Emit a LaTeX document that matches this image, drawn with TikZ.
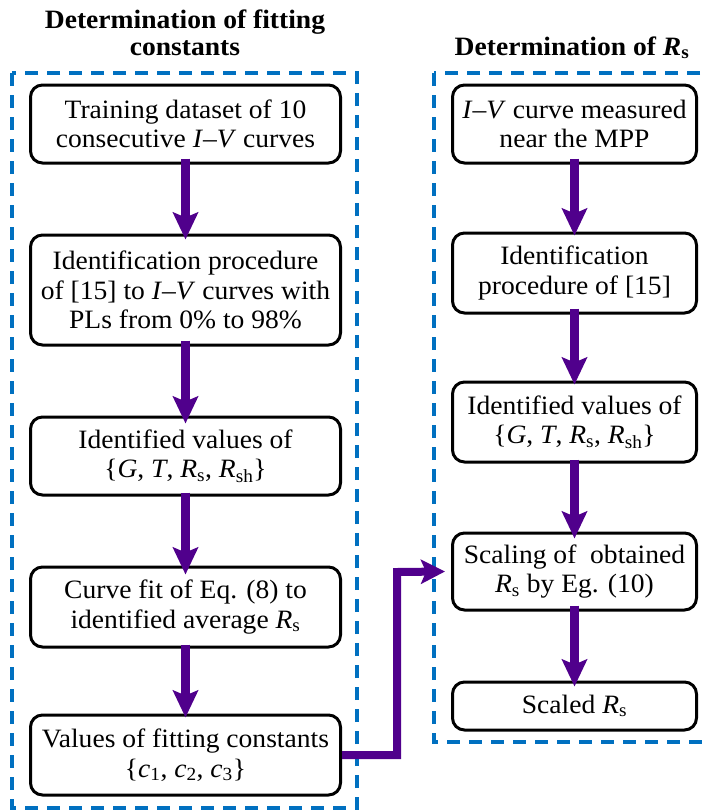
\documentclass[tikz,border=0pt]{standalone}
\usepackage{fontspec}
\setmainfont{Liberation Serif}[FakeStretch=1.04]
\usetikzlibrary{arrows.meta}
\definecolor{dashblue}{RGB}{0,112,192}
\definecolor{arrpurple}{RGB}{80,0,140}
\begin{document}
\begin{tikzpicture}[x=1pt,y=-1pt,
  stepbox/.style={draw=black,line width=3pt,rounded corners=12pt,align=center,
    inner sep=0pt,font=\fontsize{26.5}{29.5}\selectfont},
  lbox/.style={stepbox,minimum width=310pt},
  rbox/.style={stepbox,minimum width=244pt},
  group/.style={draw=dashblue,line width=3.5pt,dash pattern=on 13pt off 9pt},
  flow/.style={draw=arrpurple,line width=9pt,-{Stealth[width=25pt,length=27pt,inset=5pt]}},
  conn/.style={draw=arrpurple,line width=8pt,miter limit=10,-{Stealth[width=24pt,length=24pt,inset=5pt]}},
  ttl/.style={font=\fontsize{26.5}{27}\selectfont\bfseries,align=center,inner sep=0pt}]
\useasboundingbox (0,0) rectangle (705,811);
% titles
\node[ttl,anchor=base] (t1a) at (185,28) {Determination of fitting};
\node[ttl,anchor=base] (t1b) at (185,55) {constants};
\node[ttl,anchor=base] (t2) at (572,55) {Determination of \textit{R}\textsubscript{s}};
% dashed groups
\draw[group] (12,73) rectangle (357,808);
\draw[group] (434,73) rectangle (712,742);
% left column
\node[lbox,minimum height=78pt] (b1) at (185.5,124) {Training dataset of 10\\consecutive \textit{I}–\textit{V} curves};
\node[lbox,minimum height=110pt] (b2) at (185.5,290) {Identification procedure\\of [15] to \textit{I}–\textit{V} curves with\\PLs from 0\% to 98\%};
\node[lbox,minimum height=78pt] (b3) at (185.5,456) {Identified values of\\\{\textit{G}, \textit{T}, \textit{R}\textsubscript{s}, \textit{R}\textsubscript{sh}\}};
\node[lbox,minimum height=80pt] (b4) at (185.5,607) {Curve fit of Eq. (8) to\\identified average \textit{R}\textsubscript{s}};
\node[lbox,minimum height=80pt] (b5) at (185.5,755) {Values of fitting constants\\\{\textit{c}\textsubscript{1}, \textit{c}\textsubscript{2}, \textit{c}\textsubscript{3}\}};
% right column
\node[rbox,minimum height=78pt] (r1) at (574.5,124) {\textit{I}–\textit{V} curve measured\\near the MPP};
\node[rbox,minimum height=80pt] (r2) at (574.5,273) {Identification\\procedure of [15]};
\node[rbox,minimum height=80pt] (r3) at (574.5,422) {Identified values of\\\{\textit{G}, \textit{T}, \textit{R}\textsubscript{s}, \textit{R}\textsubscript{sh}\}};
\node[rbox,minimum height=77pt] (r4) at (574.5,571.5) {Scaling of~ obtained\\\textit{R}\textsubscript{s} by Eg. (10)};
\node[rbox,minimum height=48pt] (r5) at (574.5,706) {Scaled \textit{R}\textsubscript{s}};
% arrows
\draw[flow] ([yshift=6pt]b1.south) -- ([yshift=-6pt]b2.north);
\draw[flow] ([yshift=6pt]b2.south) -- ([yshift=-8pt]b3.north);
\draw[flow] ([yshift=4pt]b3.south) -- ([yshift=-9pt]b4.north);
\draw[flow] ([yshift=4pt]b4.south) -- ([yshift=-4pt]b5.north);
\draw[flow] ([yshift=6pt]r1.south) -- ([yshift=-4pt]r2.north);
\draw[flow] ([yshift=6pt]r2.south) -- ([yshift=-4pt]r3.north);
\draw[flow] ([yshift=4pt]r3.south) -- ([yshift=-7pt]r4.north);
\draw[flow] ([yshift=6pt]r4.south) -- ([yshift=-6pt]r5.north);
% connector
\coordinate (bend) at (397,572);
\draw[conn] (b5.east) -| (bend) -- ([xshift=-6pt]r4.west);
\end{tikzpicture}
\end{document}
